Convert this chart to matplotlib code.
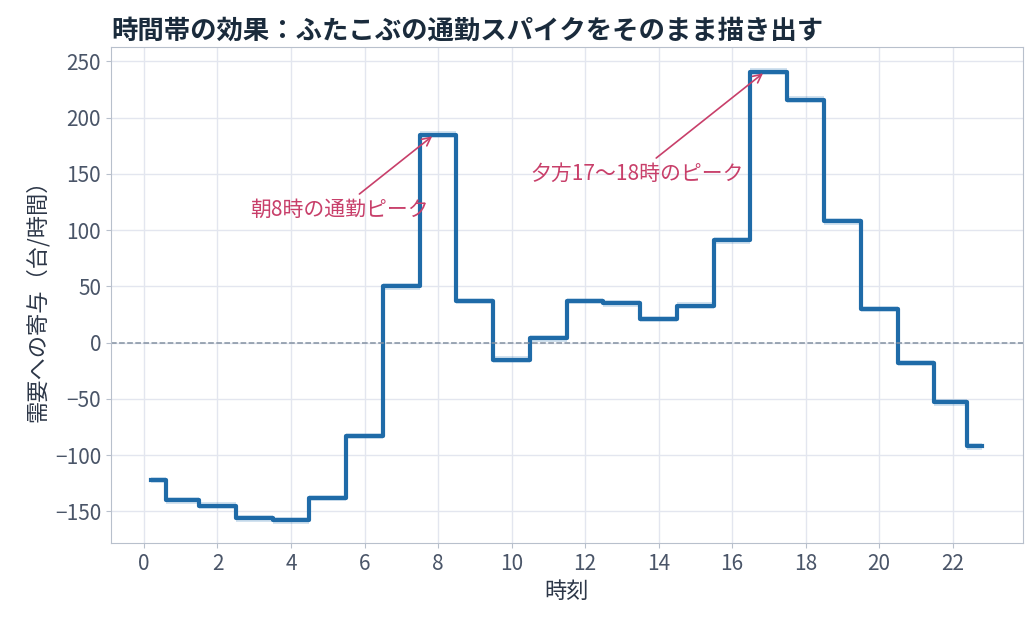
import matplotlib
matplotlib.use("Agg")
import matplotlib.pyplot as plt
import numpy as np

plt.rcParams['font.family'] = ['Noto Sans CJK JP', 'DejaVu Sans']

hours = [0.2, 1, 2, 3, 4, 5, 6, 7, 8, 9, 10, 11, 12, 13, 14, 15, 16, 17, 18, 19, 20, 21, 22, 22.8]
effect = [-122, -140, -145, -156, -158, -138, -83, 50, 185, 37, -15, 4, 37, 35, 21, 33, 91, 241, 216, 108, 30, -18, -53, -92]
xticks = list(range(0, 23, 2))
yticks = [-150, -100, -50, 0, 50, 100, 150, 200, 250]

fig, ax = plt.subplots(figsize=(10.36, 6.24), dpi=100)
fig.subplots_adjust(left=0.107, right=0.987, top=0.925, bottom=0.13)

h = np.array(hours); e = np.array(effect)
ax.fill_between(h, e - 3, e + 3, step='mid', color='#1f6fb0', alpha=0.2, lw=0)
ax.plot(h, e, drawstyle='steps-mid', color='#1f6ba8', lw=3)
ax.axhline(0, color='#8391a2', ls='--', lw=1.1)

ax.set_xlim(-0.9, 23.9)
ax.set_ylim(-178, 263)
ax.set_xticks(xticks)
ax.set_yticks(yticks)
ax.set_yticklabels([str(v).replace('-', '−') for v in yticks])
ax.grid(True, color='#e3e6ef', lw=1)
ax.set_axisbelow(True)
for s in ax.spines.values():
    s.set_color('#b8c0cc')
ax.tick_params(colors='#b8c0cc', labelcolor='#4a5568', labelsize=15)

ax.set_xlabel('時刻', fontsize=16, color='#2d3748')
ax.set_ylabel('需要への寄与（台/時間）', fontsize=16, color='#2d3748')
ax.set_title('時間帯の効果：ふたこぶの通勤スパイクをそのまま描き出す', loc='left',
             fontsize=19, fontweight='bold', color='#1a2b3c')

c = '#c83f6a'
ax.annotate('朝8時の通勤ピーク', xy=(7.9, 185), xytext=(2.9, 113),
            color=c, fontsize=15, arrowprops=dict(arrowstyle='->', color=c, lw=1.2))
ax.annotate('夕方17〜18時のピーク', xy=(16.9, 241), xytext=(10.5, 145),
            color=c, fontsize=15, arrowprops=dict(arrowstyle='->', color=c, lw=1.2))

fig.savefig('out.png')
